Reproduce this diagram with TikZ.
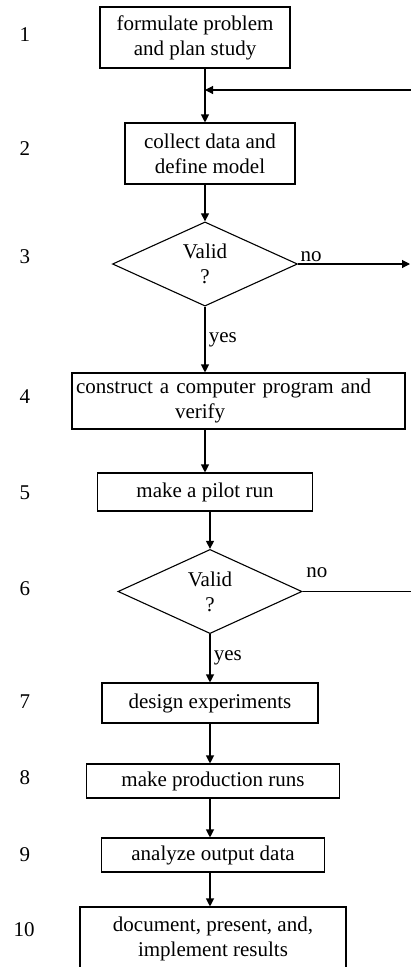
\documentclass[tikz,border=0pt]{standalone}
\usepackage{fontspec}
\setmainfont{Liberation Serif}
\usetikzlibrary{shapes.geometric,arrows.meta,positioning}

\begin{document}
\begin{tikzpicture}[x=1pt,y=1pt,on grid,line width=1.1pt,
        font=\fontsize{21}{25}\selectfont,
        >={Triangle[length=8pt,width=8pt]},
        stepbox/.style={draw,rectangle,inner sep=4pt,align=center},
        test/.style={draw,diamond,inner sep=0pt,align=center}]
            \useasboundingbox (0,0) rectangle (411,-967);
            \clip (0,0) rectangle (411,-967);
            % steps of the study
            \node[stepbox, minimum width=190pt, minimum height=61pt] (s_1) at (195,-37.5) {formulate problem\\and plan study};
            \node[stepbox, minimum width=170pt, minimum height=61pt] (s_2) [below right=116pt and 15pt of s_1] {collect data and\\define model};
            \node[test, minimum width=185pt, minimum height=74pt] (d_3) [below left=110.5pt and 5pt of s_2] {Valid\\?};
            \node[stepbox, text width=325pt, align=left, minimum height=56pt] (s_4) [below right=137pt and 33.5pt of d_3] {construct a computer program and\\\hspace*{99pt}verify};
            \node[stepbox, minimum width=215pt, minimum height=38pt] (s_5) [below left=91pt and 33.5pt of s_4] {make a pilot run};
            \node[test, minimum width=184pt, minimum height=83pt] (d_6) [below right=99.5pt and 5pt of s_5] {Valid\\?};
            \node[stepbox, minimum width=216pt, minimum height=40pt] (s_7) [below=111.5pt of d_6] {design experiments};
            \node[stepbox, minimum width=253pt, minimum height=34pt] (s_8) [below right=78pt and 3pt of s_7] {make production runs};
            \node[stepbox, minimum width=223pt, minimum height=34pt] (s_9) [below=74pt of s_8] {analyze output data};
            \node[stepbox, minimum width=266pt, minimum height=64pt] (s_10) [below=84pt of s_9] {document, present, and,\\implement results};
            % step numbers
            \node (n_1) at (25,-35) {1};
            \node (n_2) at (25,-149) {2};
            \node (n_3) at (25,-257) {3};
            \node (n_4) at (25,-397) {4};
            \node (n_5) at (25,-493) {5};
            \node (n_6) at (25,-589) {6};
            \node (n_7) at (25,-702) {7};
            \node (n_8) at (25,-778) {8};
            \node (n_9) at (25,-855) {9};
            \node (n_10) at (24,-930) {10};
            % loose ends on the right
            \coordinate (back) at (411,-90);
            \coordinate[right=205pt of d_3] (no_3);
            \coordinate[right=205pt of d_6] (no_6);
            \draw[->] (s_1.south -| d_3) -- (s_2.north -| d_3);
            \draw[->] (back) -- (back -| d_3);
            \draw[->] (s_2.south -| d_3) -- (d_3.north);
            \draw[->] (d_3.south) -- node[right] {yes} (s_4.north -| d_3);
            \draw[->] (d_3.east) -- node[above right, pos=0, inner sep=2pt] {no} (no_3);
            \draw[->] (s_4.south -| s_5) -- (s_5.north);
            \draw[->] (s_5.south -| d_6) -- (d_6.north);
            \draw[->] (d_6.south) -- node[right] {yes} (s_7.north -| d_6);
            \draw[->] (s_7.south -| d_6) -- (s_8.north -| d_6);
            \draw[->] (s_8.south -| d_6) -- (s_9.north -| d_6);
            \draw[->] (s_9.south -| d_6) -- (s_10.north -| d_6);
            \draw (d_6.east) -- node[above right, pos=0, yshift=10pt] {no} (no_6);
        \end{tikzpicture}
\end{document}
